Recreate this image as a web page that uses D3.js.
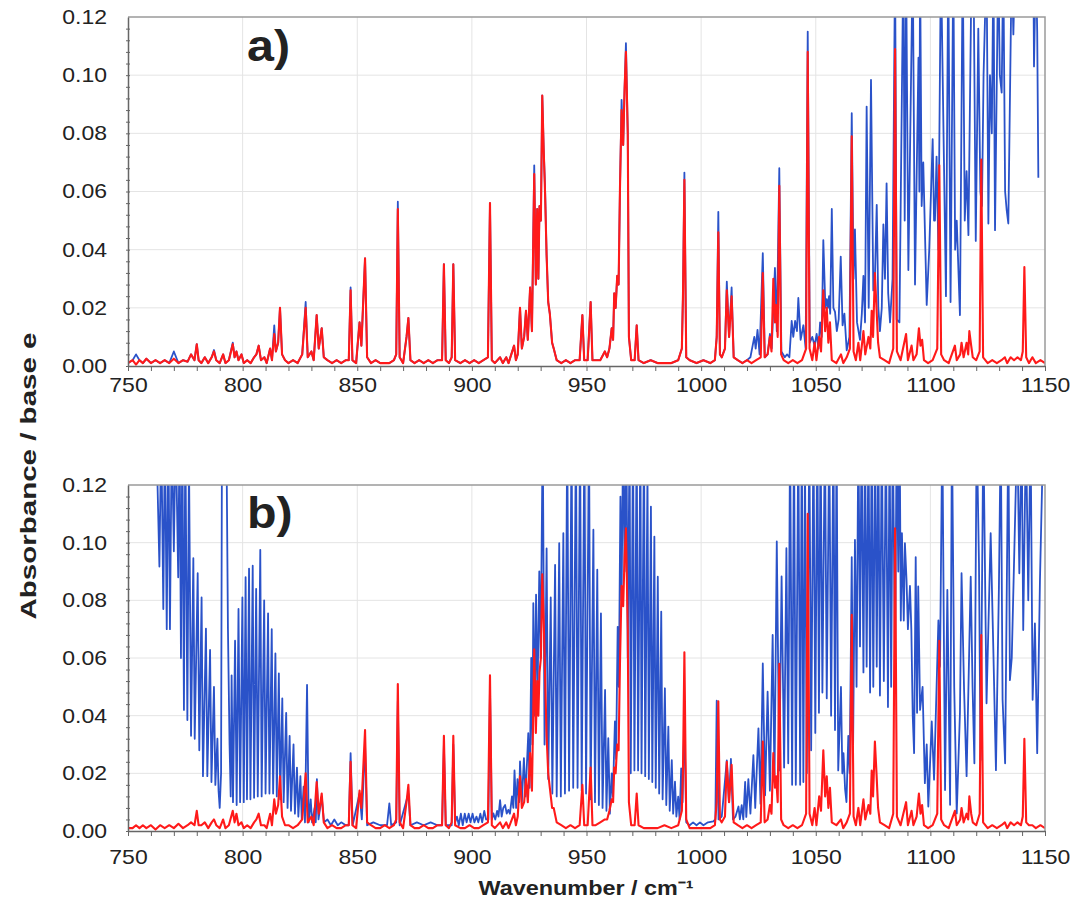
<!DOCTYPE html>
<head>
<meta charset="utf-8">
<script src="https://cdn.jsdelivr.net/npm/d3@7/dist/d3.min.js"></script>
<style>
  body { margin: 0; background: #fff; }
  svg text { font-family: "Liberation Sans", Arial, sans-serif; fill: #222; }
</style>
</head>
<body>
<div id="chart"></div>
<script>

// ---- data ----
const xTicks = [750, 800, 850, 900, 950, 1000, 1050, 1100, 1150];
const yTicks = [0, 0.02, 0.04, 0.06, 0.08, 0.10, 0.12];

// red spectrum, same lines in both panels: [wavenumber, absorbance a), absorbance b)]
const red = [
  [750,0.001,0.001],[752,0.002,0.001],[753.5,0.0005,0.002],[755,0.002,0.001],[756.5,0.001,0.002],
  [758,0.0025,0.001],[760,0.001,0.002],[762,0.002,0.0005],[764,0.001,0.002],[766,0.002,0.001],
  [768,0.001,0.002],[770,0.0025,0.001],[772,0.001,0.0025],[774,0.002,0.001],[776,0.0015,0.002],
  [777.5,0.004,0.003],[779,0.002,0.002],[780,0.0075,0.007],[780.8,0.002,0.002],[782,0.001,0.002],
  [783.5,0.003,0.003],[785,0.001,0.001],[786.5,0.003,0.003],[787.5,0.005,0.004],[788.5,0.002,0.002],
  [790,0.001,0.001],[791.5,0.004,0.004],[792.5,0.001,0.001],[794,0.002,0.002],[795.7,0.0075,0.007],
  [796.5,0.003,0.003],[797.3,0.005,0.006],[798.2,0.002,0.002],[799.5,0.004,0.003],[800.5,0.001,0.001],
  [802,0.002,0.002],[803.5,0.001,0.001],[805,0.003,0.003],[806,0.004,0.004],[807,0.007,0.006],
  [808,0.002,0.002],[809.5,0.003,0.002],[810.5,0.001,0.001],[812,0.006,0.006],[812.8,0.002,0.002],
  [813.8,0.011,0.011],[814.5,0.005,0.006],[815.5,0.008,0.009],[816.3,0.020,0.019],[817.2,0.004,0.005],
  [818.5,0.002,0.002],[820,0.001,0.002],[822,0.002,0.001],[824,0.001,0.002],[826,0.004,0.004],
  [827.5,0.020,0.020],[828.4,0.003,0.003],[830,0.005,0.005],[831,0.002,0.002],[832.3,0.0175,0.017],
  [833.2,0.006,0.006],[834.5,0.013,0.013],[835.4,0.003,0.003],[837,0.002,0.001],[839,0.001,0.002],
  [841,0.002,0.001],[843,0.001,0.001],[845,0.002,0.002],[846.3,0.002,0.002],[847.1,0.026,0.024],
  [847.9,0.002,0.002],[849.5,0.001,0.001],[851,0.015,0.014],[851.8,0.007,0.008],[853.4,0.037,0.035],
  [854.3,0.003,0.003],[856,0.001,0.002],[858,0.002,0.001],[860,0.001,0.001],[862,0.001,0.002],
  [864,0.001,0.001],[866,0.002,0.002],[867,0.004,0.004],[867.7,0.054,0.051],[868.5,0.003,0.003],
  [870,0.001,0.001],[871.5,0.010,0.010],[872.3,0.0165,0.016],[873.2,0.002,0.002],[875,0.001,0.001],
  [877,0.002,0.001],[879,0.001,0.002],[881,0.002,0.001],[883,0.001,0.001],[885,0.002,0.002],
  [887,0.002,0.002],[887.8,0.035,0.033],[888.6,0.002,0.002],[890,0.001,0.001],[891.2,0.003,0.003],
  [891.9,0.035,0.033],[892.7,0.002,0.002],[895,0.001,0.001],[897,0.002,0.001],[899,0.001,0.002],
  [901,0.002,0.001],[903,0.001,0.001],[905,0.002,0.002],[907,0.003,0.003],[907.9,0.056,0.054],
  [908.7,0.002,0.002],[910,0.001,0.001],[912.3,0.003,0.003],[913.5,0.001,0.001],[915,0.003,0.003],
  [916,0.001,0.001],[918.4,0.007,0.006],[919.2,0.002,0.002],[920,0.004,0.005],[921,0.020,0.019],
  [921.8,0.006,0.008],[922.8,0.010,0.010],[923.6,0.019,0.018],[924.4,0.009,0.010],[925.4,0.027,0.027],
  [926.2,0.012,0.014],[927.2,0.066,0.063],[927.9,0.028,0.034],[928.5,0.054,0.052],[929,0.030,0.040],
  [929.5,0.055,0.055],[930.1,0.050,0.060],[930.7,0.093,0.089],[931.3,0.075,0.074],[931.9,0.060,0.055],
  [932.6,0.038,0.033],[933.3,0.022,0.020],[934,0.018,0.015],[935,0.008,0.008],[935.7,0.006,0.008],
  [937,0.002,0.003],[939,0.001,0.002],[941,0.002,0.001],[943,0.001,0.002],[945,0.002,0.001],
  [947,0.002,0.002],[948.2,0.0175,0.016],[949,0.002,0.002],[950.5,0.002,0.002],[951.8,0.022,0.022],
  [952.6,0.002,0.002],[954,0.002,0.002],[956,0.002,0.003],[958,0.005,0.004],[959,0.003,0.004],
  [960,0.006,0.007],[961,0.013,0.011],[961.6,0.009,0.010],[962.1,0.025,0.022],[962.7,0.020,0.020],
  [963.4,0.031,0.030],[964,0.028,0.028],[964.6,0.061,0.058],[965.3,0.088,0.085],[966,0.076,0.078],
  [966.6,0.095,0.095],[967.2,0.108,0.105],[968,0.080,0.070],[968.5,0.010,0.010],[969.5,0.002,0.002],
  [971,0.002,0.002],[971.9,0.014,0.013],[972.7,0.002,0.002],[975,0.001,0.001],[978,0.002,0.001],
  [981,0.001,0.001],[984,0.001,0.002],[987,0.001,0.001],[990,0.002,0.002],[991.6,0.006,0.007],
  [992.1,0.025,0.022],[992.7,0.064,0.062],[993.5,0.003,0.004],[995,0.002,0.001],[998,0.001,0.001],
  [1001,0.002,0.001],[1004,0.001,0.001],[1006,0.002,0.002],[1006.8,0.010,0.010],[1007.5,0.046,0.045],
  [1008.2,0.004,0.004],[1009,0.003,0.003],[1010.4,0.006,0.005],[1011.2,0.026,0.024],[1012.2,0.010,0.010],
  [1013.3,0.024,0.023],[1014.2,0.003,0.003],[1016,0.002,0.002],[1018,0.001,0.001],[1020,0.002,0.002],
  [1022,0.001,0.001],[1024,0.002,0.002],[1026,0.003,0.003],[1026.9,0.032,0.031],[1027.7,0.003,0.003],
  [1029,0.004,0.004],[1030,0.010,0.009],[1030.7,0.005,0.006],[1031.5,0.030,0.027],[1032.2,0.015,0.015],
  [1032.7,0.021,0.019],[1033.4,0.010,0.010],[1034.1,0.062,0.058],[1034.9,0.004,0.004],[1036,0.002,0.002],
  [1038,0.001,0.001],[1040,0.002,0.002],[1042,0.001,0.001],[1044,0.002,0.002],[1045.8,0.006,0.006],
  [1046.5,0.108,0.110],[1047.3,0.006,0.006],[1048.5,0.002,0.002],[1049.5,0.008,0.008],[1050.3,0.002,0.002],
  [1051.5,0.010,0.012],[1052.3,0.005,0.007],[1053.3,0.026,0.028],[1054.1,0.012,0.012],[1054.8,0.020,0.019],
  [1055.5,0.008,0.008],[1056.2,0.015,0.015],[1057,0.002,0.003],[1059,0.001,0.002],[1061,0.004,0.004],
  [1062,0.001,0.001],[1063.5,0.003,0.003],[1064.9,0.006,0.006],[1065.7,0.079,0.075],[1066.5,0.005,0.005],
  [1067.5,0.002,0.002],[1068.6,0.008,0.008],[1069.4,0.002,0.002],[1070.8,0.012,0.011],[1071.6,0.004,0.004],
  [1073,0.010,0.009],[1073.8,0.006,0.006],[1074.4,0.019,0.021],[1075,0.010,0.012],[1075.8,0.032,0.031],
  [1076.5,0.020,0.020],[1077.2,0.008,0.008],[1078,0.003,0.003],[1080,0.002,0.002],[1082,0.001,0.001],
  [1083.8,0.006,0.006],[1084.6,0.109,0.105],[1085.4,0.005,0.005],[1087,0.002,0.002],[1089.4,0.011,0.010],
  [1090.2,0.002,0.002],[1091.8,0.007,0.007],[1092.6,0.002,0.002],[1094,0.004,0.005],[1095,0.013,0.013],
  [1095.7,0.007,0.006],[1096.4,0.009,0.009],[1097.2,0.002,0.002],[1099,0.001,0.001],[1101,0.002,0.002],
  [1103,0.006,0.006],[1103.9,0.069,0.066],[1104.7,0.004,0.004],[1106,0.002,0.002],[1108,0.001,0.001],
  [1110.7,0.007,0.007],[1111.5,0.002,0.002],[1113,0.004,0.004],[1113.6,0.008,0.008],[1114.5,0.003,0.003],
  [1115.8,0.008,0.006],[1116.5,0.004,0.004],[1117,0.012,0.012],[1117.8,0.007,0.006],[1118.5,0.003,0.003],
  [1120,0.002,0.002],[1121.5,0.005,0.006],[1122.2,0.071,0.068],[1123,0.003,0.003],[1125,0.001,0.001],
  [1127,0.002,0.002],[1129,0.001,0.001],[1131,0.002,0.002],[1132.5,0.003,0.003],[1133.5,0.001,0.001],
  [1135,0.003,0.003],[1136.5,0.002,0.002],[1138,0.003,0.003],[1139.5,0.002,0.002],[1140.3,0.005,0.005],
  [1141,0.034,0.032],[1141.8,0.003,0.003],[1143,0.001,0.002],[1144.5,0.003,0.002],[1146,0.001,0.001],
  [1148,0.002,0.002],[1150,0.001,0.001]
];

// blue in a): below 1018 cm-1 it follows the red trace, except at these tops where it sticks out
const blueALowTops = [
  [753.5,0.004],[770,0.005],[787.5,0.0055],[795.7,0.008],[813.8,0.014],[827.5,0.022],[847.1,0.027],
  [867.7,0.0565],[927.2,0.069],[931.9,0.062],[965.3,0.0915],[967.2,0.111],[992.7,0.0665],
  [1007.5,0.053],[1011.2,0.029],[1013.3,0.027]
];

// blue in a) from 1018 cm-1 on: [wavenumber, absorbance]
const blueAHigh = [
  [1018,0.001],[1020,0.002],[1021.5,0.003],[1023.2,0.010],[1023.8,0.006],[1024.6,0.0124],[1025.5,0.004],
  [1026.9,0.0388],[1027.8,0.003],[1029,0.004],[1030,0.011],[1030.8,0.006],[1032.2,0.0337],[1033,0.012],
  [1034.1,0.068],[1035,0.005],[1036.5,0.003],[1037.5,0.004],[1038.5,0.003],[1039.5,0.0155],[1040.2,0.010],
  [1041,0.0155],[1041.8,0.012],[1042.4,0.0234],[1043.4,0.009],[1044.6,0.014],[1045.6,0.006],[1046.5,0.115],
  [1047.4,0.008],[1048.5,0.010],[1049.5,0.007],[1050.4,0.011],[1051.2,0.006],[1051.9,0.015],[1052.6,0.010],
  [1053.3,0.0433],[1054.2,0.020],[1054.8,0.023],[1055.3,0.020],[1055.8,0.024],[1056.3,0.018],[1057,0.054],
  [1057.7,0.020],[1058.4,0.0186],[1059.2,0.012],[1060,0.016],[1060.9,0.0376],[1061.7,0.014],[1062.5,0.018],
  [1063.5,0.0054],[1064.7,0.010],[1065.7,0.0869],[1066.5,0.030],[1067.1,0.047],[1068,0.015],[1069.3,0.009],
  [1070.1,0.018],[1070.8,0.031],[1071.5,0.015],[1072.2,0.0892],[1073.1,0.020],[1074.1,0.0984],[1075.1,0.026],
  [1075.8,0.030],[1076.6,0.0554],[1077.3,0.020],[1078,0.012],[1078.8,0.020],[1079.5,0.0487],[1080.2,0.030],
  [1080.9,0.0628],[1081.6,0.025],[1082.4,0.015],[1083.5,0.030],[1084.6,0.14],[1085.3,0.016],[1086.5,0.015],
  [1088.2,0.14],[1088.8,0.050],[1089.4,0.14],[1090.4,0.033],[1092.3,0.14],[1093.3,0.028],[1094.8,0.106],
  [1095.2,0.060],[1095.5,0.14],[1096.2,0.055],[1096.9,0.070],[1098.4,0.021],[1099.5,0.040],[1101,0.078],
  [1101.6,0.050],[1102,0.050],[1102.7,0.072],[1103.5,0.040],[1104.6,0.14],[1106.8,0.024],[1107.8,0.14],
  [1108.8,0.022],[1110,0.14],[1110.8,0.040],[1111.5,0.050],[1112.9,0.0175],[1114.1,0.14],[1115,0.050],
  [1115.8,0.067],[1116.6,0.045],[1118,0.14],[1119,0.120],[1119.8,0.043],[1120.9,0.116],[1121.8,0.060],
  [1122.5,0.055],[1123.2,0.100],[1124.5,0.14],[1125.3,0.049],[1126,0.100],[1126.8,0.080],[1127.5,0.14],
  [1128.2,0.0467],[1129.6,0.14],[1130.3,0.100],[1131.1,0.094],[1131.8,0.14],[1132.6,0.060],[1133.3,0.0535],
  [1134,0.049],[1135.5,0.14],[1136.2,0.114],[1137,0.14],[1140,0.14],[1144.9,0.14],[1145.2,0.103],
  [1146,0.14],[1146.6,0.115],[1147.1,0.0647]
];

// blue in b): [wavenumber, absorbance]
const blueB = [
  [762.3,0.14],[763.7,0.0917],[764.5,0.14],[765.4,0.077],[766.1,0.14],[766.9,0.070],[767.6,0.14],[768.3,0.070],
  [769.1,0.14],[770,0.097],[770.8,0.14],[771.9,0.088],[772.5,0.14],[773.1,0.060],[773.7,0.14],[774.4,0.042],
  [775,0.14],[775.9,0.0385],[776.6,0.13],[777.5,0.033],[778.5,0.0946],[779.1,0.032],[780.4,0.0894],[781.1,0.028],
  [782.1,0.081],[782.7,0.019],[784,0.0702],[784.6,0.019],[785.8,0.0628],[786.4,0.017],[787.5,0.050],[788.1,0.016],
  [789,0.032],[789.5,0.014],[790,0.008],[790.6,0.02],[791,0.14],[792.9,0.14],[793.6,0.07],[794.3,0.03],
  [794.8,0.012],[795.2,0.054],[795.8,0.010],[796.7,0.066],[797.4,0.009],[798.2,0.077],[798.9,0.010],[799.9,0.081],
  [800.5,0.010],[801.3,0.088],[801.9,0.011],[802.8,0.091],[803.4,0.011],[804.4,0.092],[805,0.0115],[805.9,0.084],
  [806.6,0.012],[807.7,0.0975],[808.3,0.012],[809.4,0.080],[810,0.013],[811.1,0.0755],[811.7,0.013],[812.7,0.070],
  [813.3,0.013],[814.3,0.0616],[814.9,0.012],[815.8,0.0547],[816.4,0.011],[817.3,0.046],[817.9,0.010],[819,0.041],
  [819.6,0.008],[820.5,0.033],[821.1,0.007],[822.2,0.030],[822.8,0.006],[823.7,0.022],[824.3,0.005],[825.2,0.019],
  [825.8,0.004],[826.6,0.0154],[827.2,0.003],[828.1,0.0507],[828.8,0.003],[829.7,0.011],[830.3,0.003],[831.4,0.008],
  [831.9,0.003],[832.4,0.018],[833.1,0.004],[834.5,0.012],[835.5,0.003],[837,0.004],[838.5,0.002],[840,0.004],
  [841.5,0.002],[843,0.003],[845,0.002],[846.3,0.002],[847.1,0.027],[848,0.002],[851,0.013],[852,0.004],
  [853.4,0.030],[854.3,0.002],[857,0.003],[860,0.002],[863,0.002],[864,0.0096],[864.8,0.002],[867,0.003],
  [867.7,0.045],[868.5,0.002],[872.3,0.013],[873.2,0.002],[876,0.003],[879,0.002],[882,0.003],[885,0.002],
  [887,0.002],[887.8,0.030],[888.6,0.002],[891.2,0.002],[891.9,0.030],[892.7,0.003],[893.5,0.005],[894.3,0.002],
  [895.2,0.006],[896,0.002],[896.9,0.006],[897.7,0.003],[898.6,0.006],[899.4,0.003],[900.3,0.006],[901.1,0.003],
  [902,0.005],[902.8,0.003],[903.7,0.006],[904.5,0.003],[905.4,0.007],[906.2,0.004],[907.2,0.004],[907.9,0.05],
  [908.7,0.004],[909.4,0.0061],[910.2,0.004],[911,0.007],[911.6,0.005],[912.3,0.0107],[913,0.005],[913.7,0.008],
  [914.5,0.009],[915.2,0.006],[915.9,0.0073],[916.6,0.006],[917.5,0.012],[918.1,0.008],[918.6,0.021],[919.3,0.008],
  [919.9,0.018],[920.6,0.010],[921,0.0241],[921.8,0.010],[922.7,0.0253],[923.4,0.012],[924.6,0.0339],[925.2,0.015],
  [925.9,0.060],[926.4,0.030],[926.8,0.079],[927.4,0.040],[928,0.082],[928.6,0.045],[929.4,0.090],[930,0.060],
  [930.9,0.14],[931.7,0.030],[932.6,0.098],[933.3,0.018],[934.4,0.081],[935.1,0.013],[936.3,0.0923],[937,0.012],
  [938.1,0.0998],[938.8,0.012],[939.9,0.1033],[940.6,0.013],[941.6,0.14],[942.4,0.014],[943.5,0.14],[944.2,0.015],
  [945.4,0.14],[946.1,0.015],[947.2,0.14],[947.9,0.014],[949.1,0.14],[949.8,0.013],[951.1,0.14],[951.8,0.011],
  [953,0.1045],[953.7,0.010],[954.7,0.0906],[955.4,0.009],[956.3,0.0755],[957,0.008],[958.1,0.0489],[958.7,0.007],
  [959.5,0.0322],[960.2,0.006],[961,0.020],[961.5,0.012],[962.4,0.038],[962.9,0.025],[963.6,0.0708],[964.1,0.050],
  [964.8,0.116],[965.3,0.08],[966,0.14],[966.6,0.09],[967.4,0.14],[968,0.06],[968.8,0.14],[969.3,0.020],
  [970.3,0.14],[970.9,0.021],[971.9,0.14],[972.5,0.021],[973.5,0.14],[974,0.020],[975.1,0.14],[975.6,0.019],
  [976.6,0.125],[977.2,0.018],[978.1,0.1125],[978.7,0.017],[979.6,0.1021],[980.2,0.015],[981.1,0.0882],[981.7,0.013],
  [982.6,0.0761],[983.2,0.011],[984.2,0.0495],[984.8,0.009],[985.7,0.0362],[986.3,0.007],[987.2,0.0246],[987.8,0.006],
  [988.6,0.0171],[989.2,0.005],[990,0.0119],[990.6,0.004],[991.3,0.0217],[991.9,0.010],[992.7,0.040],[993.5,0.003],
  [995,0.002],[996.5,0.003],[998,0.002],[999.5,0.003],[1001,0.002],[1003,0.003],[1005.3,0.0033],[1006.2,0.004],
  [1006.8,0.0452],[1007.6,0.004],[1009,0.005],[1011.2,0.0245],[1012.1,0.010],[1013,0.025],[1013.9,0.004],[1015,0.005],
  [1016.3,0.0085],[1016.9,0.004],[1017.7,0.009],[1018.4,0.004],[1019.2,0.017],[1019.7,0.0049],[1020.6,0.018],[1021.5,0.006],
  [1022.8,0.0263],[1023.6,0.008],[1025,0.0356],[1025.9,0.0095],[1026.9,0.0581],[1027.9,0.0124],[1029,0.0483],[1030,0.014],
  [1031.2,0.068],[1032,0.017],[1033,0.1004],[1034.1,0.021],[1035.1,0.0883],[1036.2,0.022],[1037.2,0.0981],[1038,0.0235],
  [1038.8,0.14],[1039.7,0.016],[1040.5,0.14],[1041.3,0.016],[1042.4,0.14],[1043.2,0.016],[1043.9,0.14],[1044.6,0.017],
  [1045.3,0.13],[1046.1,0.020],[1047.2,0.14],[1048,0.028],[1049,0.14],[1049.8,0.034],[1050.7,0.14],[1051.4,0.041],
  [1052.1,0.14],[1052.9,0.048],[1054,0.14],[1054.8,0.046],[1055.9,0.14],[1056.7,0.040],[1057.7,0.14],[1058.4,0.035],
  [1059.1,0.14],[1059.8,0.021],[1061,0.050],[1061.6,0.020],[1062.1,0.027],[1062.8,0.0145],[1063.4,0.01],[1064.2,0.033],
  [1064.8,0.02],[1065.7,0.095],[1066.3,0.03],[1067.1,0.101],[1067.8,0.05],[1068.6,0.14],[1069.3,0.064],[1070,0.14],
  [1070.8,0.055],[1071.5,0.14],[1072.2,0.057],[1073,0.14],[1073.7,0.048],[1074.4,0.14],[1075.1,0.050],[1075.9,0.14],
  [1076.6,0.057],[1077.3,0.14],[1078,0.047],[1078.8,0.14],[1079.7,0.052],[1080.6,0.14],[1081.5,0.043],[1082.2,0.14],
  [1082.9,0.050],[1083.6,0.14],[1084.6,0.058],[1085.3,0.14],[1086,0.09],[1086.6,0.14],[1087.1,0.073],[1087.6,0.1033],
  [1088.4,0.073],[1088.9,0.0998],[1089.6,0.087],[1090.2,0.070],[1091.1,0.085],[1091.7,0.0697],[1092.3,0.040],[1092.9,0.027],
  [1093.6,0.095],[1094.2,0.041],[1094.7,0.0848],[1095.5,0.042],[1096.6,0.050],[1097.6,0.0166],[1098.4,0.030],[1099.1,0.0085],
  [1100.6,0.038],[1101.6,0.0178],[1103.5,0.073],[1104.2,0.057],[1105.2,0.14],[1106.4,0.0142],[1107.4,0.0836],[1108.6,0.0091],
  [1109.4,0.14],[1110.4,0.050],[1111.5,0.0061],[1112.9,0.041],[1113.6,0.0894],[1114.7,0.049],[1115.8,0.019],[1117.6,0.0882],
  [1118.4,0.050],[1119.2,0.0235],[1120.2,0.14],[1121.2,0.0929],[1121.9,0.0246],[1123.1,0.14],[1124.5,0.0443],[1126.3,0.1033],
  [1127.5,0.0616],[1128.6,0.0211],[1129.9,0.0848],[1130.7,0.14],[1131.5,0.0455],[1132.6,0.0235],[1134,0.14],[1134.7,0.0523],
  [1135.5,0.060],[1137.9,0.14],[1138.8,0.0894],[1139.8,0.14],[1140.5,0.0697],[1141.7,0.14],[1142.7,0.08],[1143.7,0.14],
  [1144.6,0.0455],[1145.6,0.072],[1146.6,0.027],[1147.8,0.087],[1149.3,0.14],[1150,0.14]
];

// ---- build the traces ----
const topMap = new Map(blueALowTops);
const blueA = red.filter(d => d[0] < 1018)
  .map(d => [d[0], topMap.has(d[0]) ? topMap.get(d[0]) : d[1]])
  .concat(blueAHigh);
const redA = red.map(d => [d[0], d[1]]);
const redB = red.map(d => [d[0], d[2]]);

const width = 1081, height = 901;
const left = 128, right = 1045;
const panels = [
  { id: "a", top: 17, bottom: 366, blue: blueA, red: redA, label: "a)", labelY: 61, pad: 12 },
  { id: "b", top: 485, bottom: 831, blue: blueB, red: redB, label: "b)", labelY: 528, pad: 19 }
];

const svg = d3.select("#chart").append("svg")
  .attr("width", width)
  .attr("height", height);

const x = d3.scaleLinear().domain([750, 1150]).range([left, right]);

panels.forEach(function (p) {
  const y = d3.scaleLinear().domain([0, 0.12]).range([p.bottom, p.top]);
  const g = svg.append("g");

  g.append("clipPath").attr("id", "clip-" + p.id)
    .append("rect")
    .attr("x", left).attr("y", p.top)
    .attr("width", right - left).attr("height", p.bottom - p.top);

  // grid
  g.append("g").selectAll("line")
    .data(xTicks.slice(1, -1))
    .join("line")
    .attr("x1", d => x(d)).attr("x2", d => x(d))
    .attr("y1", p.top).attr("y2", p.bottom)
    .attr("stroke", "#e4e4e4").attr("stroke-width", 1);
  g.append("g").selectAll("line")
    .data(yTicks.slice(1, -1))
    .join("line")
    .attr("x1", left).attr("x2", right)
    .attr("y1", d => y(d)).attr("y2", d => y(d))
    .attr("stroke", "#e4e4e4").attr("stroke-width", 1);

  // traces
  const line = d3.line().x(d => x(d[0])).y(d => y(d[1]));
  const traces = g.append("g").attr("clip-path", "url(#clip-" + p.id + ")");
  traces.append("path")
    .datum(p.blue)
    .attr("d", line)
    .attr("fill", "none")
    .attr("stroke", "#2a52c9")
    .attr("stroke-width", 1.8)
    .attr("stroke-linejoin", "round");
  traces.append("path")
    .datum(p.red)
    .attr("d", line)
    .attr("fill", "none")
    .attr("stroke", "#ff1a1a")
    .attr("stroke-width", 2.1)
    .attr("stroke-linejoin", "round");

  // frame
  g.append("path")
    .attr("d", `M${left},${p.top}H${right}V${p.bottom}`)
    .attr("fill", "none").attr("stroke", "#9a9a9a").attr("stroke-width", 1.5);

  // x axis
  const xMinor = g.append("g")
    .attr("transform", `translate(0,${p.bottom})`)
    .call(d3.axisBottom(x).tickValues(d3.range(750, 1151, 10)).tickSize(5).tickFormat(""));
  xMinor.select(".domain").remove();
  xMinor.selectAll(".tick line").attr("stroke", "#666");

  const xAxis = g.append("g")
    .attr("transform", `translate(0,${p.bottom})`)
    .call(d3.axisBottom(x).tickValues(xTicks).tickSize(0).tickPadding(p.pad).tickFormat(d3.format("d")));
  xAxis.select(".domain").attr("stroke", "#666").attr("stroke-width", 1.5);
  xAxis.selectAll("text")
    .style("font-size", "20px").attr("fill", "#222")
    .attr("transform", "scale(1.15,1)");

  // y axis
  const yMinor = g.append("g")
    .attr("transform", `translate(${left - 2},0)`)
    .call(d3.axisLeft(y).tickValues(d3.range(0, 30).map(i => i * 0.004)).tickSize(-4).tickFormat(""));
  yMinor.select(".domain").remove();
  yMinor.selectAll(".tick line").attr("stroke", "#666");

  const yAxis = g.append("g")
    .attr("transform", `translate(${left},0)`)
    .call(d3.axisLeft(y).tickValues(yTicks).tickSize(0).tickFormat(d3.format(".2f")));
  yAxis.select(".domain").attr("stroke", "#666").attr("stroke-width", 1.5);
  yAxis.selectAll("text")
    .style("font-size", "20px").attr("fill", "#222")
    .attr("x", 0)
    .attr("transform", "translate(-21,0) scale(1.15,1)");

  // panel letter
  g.append("text")
    .attr("transform", `translate(247,${p.labelY}) scale(1.1,1)`)
    .style("font-size", "44px").style("font-weight", "bold")
    .attr("fill", "#000")
    .text(p.label);
});

// axis titles
svg.append("text")
  .attr("transform", "translate(36,476) rotate(-90)")
  .attr("text-anchor", "middle")
  .attr("textLength", 287).attr("lengthAdjust", "spacingAndGlyphs")
  .style("font-size", "22px").style("font-weight", "bold")
  .attr("fill", "#111")
  .text("Absorbance / base e");

svg.append("text")
  .attr("x", 586).attr("y", 895)
  .attr("text-anchor", "middle")
  .attr("textLength", 215).attr("lengthAdjust", "spacingAndGlyphs")
  .style("font-size", "21px").style("font-weight", "bold")
  .attr("fill", "#111")
  .text("Wavenumber / cm\u207B\u00B9");

</script>
</body>
